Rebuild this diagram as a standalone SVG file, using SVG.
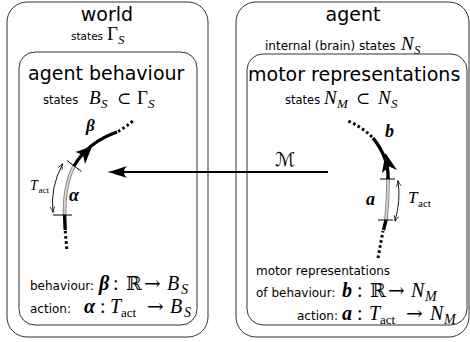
<svg xmlns="http://www.w3.org/2000/svg" width="470" height="342" viewBox="0 0 470 342">
<defs>
<style>
.box{fill:none;stroke:#333;stroke-width:1}
.t1{font-family:"DejaVu Sans",sans-serif;font-size:19px;fill:#000}
.t2{font-family:"DejaVu Sans",sans-serif;font-size:12px;fill:#000}
.t3{font-family:"DejaVu Sans",sans-serif;font-size:11.5px;fill:#000}
.m{font-family:"Liberation Serif","DejaVu Serif",serif;font-size:19px;fill:#000}
.big{font-size:20px}
.sym{font-family:"DejaVu Serif",serif}
.i{font-style:italic}
.b{font-weight:bold;font-style:italic}
.s{font-size:13px}
.s3{font-size:14px}
.s2{font-size:13px}
.blk{fill:none;stroke:#000;stroke-width:3.4;stroke-linecap:butt}
.dot{fill:none;stroke:#000;stroke-width:3;stroke-dasharray:2.6 2.6}
.g1{fill:none;stroke:#777;stroke-width:3.6}
.g2{fill:none;stroke:#d4d4d4;stroke-width:2}
.tick{fill:none;stroke:#000;stroke-width:1}
.thin{fill:none;stroke:#000;stroke-width:0.9}
</style>
<marker id="ah" viewBox="0 0 10 10" refX="9" refY="5" markerWidth="6" markerHeight="6" orient="auto-start-reverse" markerUnits="userSpaceOnUse">
<path d="M0,1 Q5,4 10,5 Q5,6 0,9" fill="none" stroke="#000" stroke-width="1.2"/>
</marker>
</defs>

<g id="world">
<rect class="box" x="7" y="2" width="201" height="335" rx="20"/>
<text class="t1" x="107" y="21" text-anchor="middle">world</text>
<text class="t3" x="71" y="40" style="font-size:10.5px">states</text>
<text class="m" x="107" y="40">Γ</text><text class="m i s" x="118" y="44">S</text>
</g>

<g id="agent-behaviour">
<rect class="box" x="19" y="52" width="178" height="273" rx="16"/>
<text class="t1" x="28" y="80">agent behaviour</text>
<text class="t3" x="43" y="104">states</text>
<text class="m i" x="89" y="104">B</text><text class="m i s" x="101" y="108">S</text>
<text class="m sym" x="117" y="104" style="font-size:17px">⊂</text>
<text class="m" x="137" y="104">Γ</text><text class="m i s" x="148" y="108">S</text>
<text class="t2" x="30" y="290">behaviour:</text>
<text class="m b big" x="99" y="290">β</text>
<text class="m big" x="113" y="290">:</text>
<text class="m sym" x="126" y="290">ℝ</text>
<text class="m sym big" x="144" y="290">→</text>
<text class="m i big" x="167" y="290">B</text><text class="m i s3" x="181" y="294">S</text>
<text class="t2" x="30" y="313">action:</text>
<text class="m b big" x="84" y="313">α</text>
<text class="m big" x="100" y="313">:</text>
<text class="m i big" x="110" y="313">T</text><text class="m s2" x="121" y="317">act</text>
<text class="m sym big" x="147" y="313">→</text>
<text class="m i big" x="170" y="313">B</text><text class="m i s3" x="184" y="317">S</text>
</g>

<g id="agent">
<rect class="box" x="236" y="2" width="233" height="335" rx="20"/>
<text class="t1" x="353" y="21" text-anchor="middle">agent</text>
<text class="t2" x="265" y="50">internal (brain) states</text>
<text class="m i" x="401" y="50">N</text><text class="m i s" x="414" y="54">S</text>
</g>

<g id="motor-representations">
<rect class="box" x="247" y="54" width="220" height="271" rx="16"/>
<text class="t1" x="248" y="81">motor representations</text>
<text class="t3" x="285" y="104">states</text>
<text class="m i" x="324" y="104">N</text><text class="m i s" x="337" y="108">M</text>
<text class="m sym" x="356" y="104" style="font-size:17px">⊂</text>
<text class="m i" x="378" y="104">N</text><text class="m i s" x="391" y="108">S</text>
<text class="t2" x="256" y="275">motor representations</text>
<text class="t2" x="256" y="297">of behaviour:</text>
<text class="m b big" x="342" y="297">b</text>
<text class="m big" x="357" y="297">:</text>
<text class="m sym" x="370" y="297">ℝ</text>
<text class="m sym big" x="388" y="297">→</text>
<text class="m i big" x="411" y="297">N</text><text class="m i s3" x="425" y="301">M</text>
<text class="t2" x="297" y="320">action:</text>
<text class="m b big" x="342" y="320">a</text>
<text class="m big" x="357" y="320">:</text>
<text class="m i big" x="369" y="320">T</text><text class="m s2" x="380" y="324">act</text>
<text class="m sym big" x="406" y="320">→</text>
<text class="m i big" x="430" y="320">N</text><text class="m i s3" x="444" y="324">M</text>
</g>

<g id="behaviour-curve">
<path class="dot" d="M66.8 249 L65.2 231"/>
<path class="blk" d="M65.2 230 L64.6 215"/>
<path class="g1" d="M64.6 215 Q64 185 74 166"/>
<path class="g2" d="M64.6 215 Q64 185 74 166"/>
<path class="blk" d="M74 166 Q88 142 117 132"/>
<path class="dot" d="M118 131.5 Q126 127 134 120"/>
<path d="M92,146.5 L75.5,152 L83,155 L85,164 Z" fill="#000"/>
<path class="tick" d="M53 215 L72 215"/>
<path class="tick" d="M67 160.5 L81.5 171.5"/>
<path class="thin" d="M62.5 164 Q50 188 53 212" marker-start="url(#ah)" marker-end="url(#ah)"/>
<text class="m i" x="30" y="190" style="font-size:14px">T</text><text class="m" x="38.5" y="193" style="font-size:9px">act</text>
<text class="m b" x="69" y="201" style="font-size:18px">α</text>
<text class="m b" x="86" y="131" style="font-size:17px">β</text>
</g>

<g id="motor-curve">
<path class="dot" d="M378 258 L383 231"/>
<path class="blk" d="M383.5 230 L386 220"/>
<path class="g1" d="M386 220 Q388 200 388 179"/>
<path class="g2" d="M386 220 Q388 200 388 179"/>
<path class="blk" d="M388 179 Q389 158 373 138"/>
<path class="dot" d="M372 137 Q362 127 348 121"/>
<path d="M385.5,153 L382,173 L389,166.5 L397,170 Z" fill="#000"/>
<path class="tick" d="M380 179 L395 179"/>
<path class="tick" d="M378 220 L393 220"/>
<path class="thin" d="M398 181 Q401 200 395 221" marker-start="url(#ah)" marker-end="url(#ah)"/>
<text class="m i" x="408" y="203" style="font-size:17px">T</text><text class="m" x="418" y="207" style="font-size:11px">act</text>
<text class="m b" x="366" y="205" style="font-size:18px">a</text>
<text class="m b" x="385" y="137" style="font-size:18px">b</text>
</g>

<g id="connectors">
<path d="M328 172 L120 172" fill="none" stroke="#000" stroke-width="2"/>
<path d="M107,172 C113,171 120,168 127,166 C123,169 123,175 127,178 C120,176 113,173 107,172 Z" fill="#000"/>
<text class="m" x="275" y="166" style="font-family:'DejaVu Serif','DejaVu Sans',serif;font-size:19px">ℳ</text>
</g>
</svg>
